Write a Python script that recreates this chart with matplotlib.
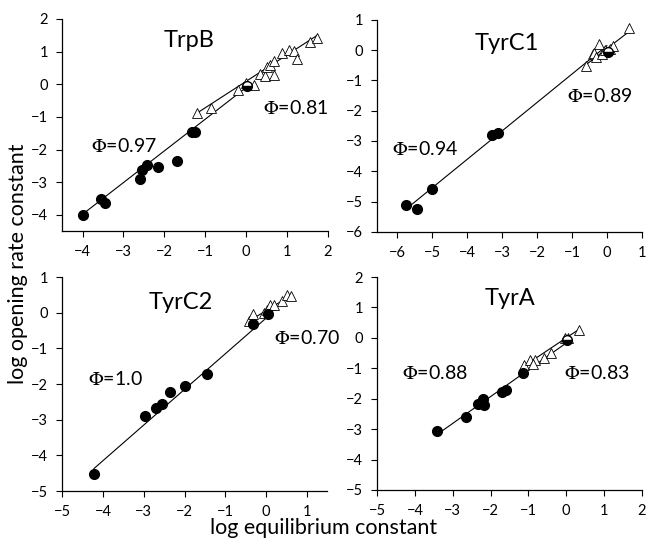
import matplotlib.pyplot as plt
import numpy as np

plt.rcParams["font.family"] = ["Lato", "DejaVu Sans"]
plt.rcParams["mathtext.fontset"] = "stix"

# TrpB
trpb_circ_x = [-4.0, -3.54, -3.45, -2.59, -2.55, -2.43, -2.15, -1.68, -1.33, -1.24]
trpb_circ_y = [-4.0, -3.50, -3.63, -2.91, -2.62, -2.47, -2.54, -2.35, -1.46, -1.46]
trpb_tri_x = [-1.21, -0.85, -0.20, 0.0, 0.20, 0.33, 0.46, 0.51, 0.58, 0.69, 0.67,
              0.88, 1.04, 1.16, 1.23, 1.57, 1.72]
trpb_tri_y = [-0.88, -0.73, -0.19, 0.05, -0.02, 0.31, 0.25, 0.54, 0.59, 0.71, 0.27,
              0.96, 1.04, 1.01, 0.76, 1.29, 1.42]
trpb_ref = (0.02, -0.06)
trpb_fits = [(0.97, -0.10, -4.0, 0.05), (0.81, 0.09, -1.2, 1.75)]

# TyrC1
tyrc1_circ_x = [-5.76, -5.42, -5.0, -3.30, -3.11]
tyrc1_circ_y = [-5.13, -5.24, -4.60, -2.81, -2.75]
tyrc1_tri_x = [-0.60, -0.41, -0.36, -0.31, -0.23, -0.13, -0.05, 0.08, 0.17, 0.64]
tyrc1_tri_y = [-0.52, -0.13, -0.08, -0.24, 0.20, -0.13, 0.0, 0.03, 0.14, 0.73]
tyrc1_ref = (0.02, -0.05)
tyrc1_fits = [(0.94, 0.15, -5.65, 0.0), (0.89, 0.05, -0.6, 0.64)]

# TyrC2
tyrc2_circ_x = [-4.22, -2.96, -2.69, -2.56, -2.36, -1.98, -1.44, -0.32, 0.05]
tyrc2_circ_y = [-4.53, -2.90, -2.67, -2.57, -2.23, -2.05, -1.71, -0.31, -0.05]
tyrc2_tri_x = [-0.42, -0.32, -0.06, 0.02, 0.09, 0.19, 0.39, 0.51, 0.61]
tyrc2_tri_y = [-0.24, -0.03, -0.01, 0.08, 0.23, 0.22, 0.32, 0.49, 0.47]
tyrc2_ref = None
tyrc2_fits = [(1.0, -0.15, -4.22, 0.05), (0.70, 0.06, -0.45, 0.6)]

# TyrA
tyra_circ_x = [-3.42, -2.65, -2.33, -2.21, -2.17, -1.69, -1.60, -1.14]
tyra_circ_y = [-3.05, -2.61, -2.16, -2.02, -2.21, -1.77, -1.72, -1.17]
tyra_tri_x = [-1.12, -0.95, -0.83, -0.88, -0.60, -0.40, -0.04, 0.04, 0.33]
tyra_tri_y = [-0.88, -0.73, -0.73, -0.86, -0.65, -0.49, 0.01, 0.01, 0.25]
tyra_ref = (0.02, -0.06)
tyra_fits = [(0.88, -0.17, -3.35, 0.05), (0.83, 0.0, -1.1, 0.35)]

panels = [
    dict(name="TrpB", cx=trpb_circ_x, cy=trpb_circ_y, tx=trpb_tri_x, ty=trpb_tri_y,
         ref=trpb_ref, fits=trpb_fits, xlim=(-4.5, 2), ylim=(-4.5, 2),
         xticks=range(-4, 3), yticks=range(-4, 3),
         rect=[0.096, 0.571, 0.411, 0.394],
         title_xy=(-1.4, 1.34), labels=[(-3.0, -1.9), (1.2, -0.73)]),
    dict(name="TyrC1", cx=tyrc1_circ_x, cy=tyrc1_circ_y, tx=tyrc1_tri_x, ty=tyrc1_tri_y,
         ref=tyrc1_ref, fits=tyrc1_fits, xlim=(-6.57, 1), ylim=(-6, 1),
         xticks=range(-6, 2), yticks=range(-6, 2),
         rect=[0.583, 0.570, 0.409, 0.393],
         title_xy=(-2.85, 0.22), labels=[(-5.2, -3.26), (-0.2, -1.5)]),
    dict(name="TyrC2", cx=tyrc2_circ_x, cy=tyrc2_circ_y, tx=tyrc2_tri_x, ty=tyrc2_tri_y,
         ref=tyrc2_ref, fits=tyrc2_fits, xlim=(-5, 1.5), ylim=(-5, 1),
         xticks=range(-5, 2), yticks=range(-5, 2),
         rect=[0.096, 0.089, 0.410, 0.397],
         title_xy=(-2.1, 0.3), labels=[(-3.7, -1.85), (1.0, -0.7)]),
    dict(name="TyrA", cx=tyra_circ_x, cy=tyra_circ_y, tx=tyra_tri_x, ty=tyra_tri_y,
         ref=tyra_ref, fits=tyra_fits, xlim=(-5, 2), ylim=(-5, 2),
         xticks=range(-5, 3), yticks=range(-5, 3),
         rect=[0.583, 0.091, 0.409, 0.395],
         title_xy=(-1.5, 1.29), labels=[(-3.47, -1.17), (0.8, -1.17)]),
]

fig = plt.figure(figsize=(6.47, 5.39), dpi=100)

for p in panels:
    ax = fig.add_axes(p["rect"])

    # fitted lines, slope = phi
    for slope, icpt, x0, x1 in p["fits"]:
        xs = np.array([x0, x1])
        ax.plot(xs, slope * xs + icpt, color="black", lw=0.8, zorder=2)

    ax.plot(p["tx"], p["ty"], linestyle="none", marker="^", ms=6.5,
            mfc="white", mec="black", mew=0.6, zorder=3)
    ax.plot(p["cx"], p["cy"], linestyle="none", marker="o", ms=7,
            mfc="black", mec="black", zorder=4)
    if p["ref"] is not None:
        ax.plot([p["ref"][0]], [p["ref"][1]], linestyle="none", marker="o", ms=7,
                fillstyle="bottom", mfc="black", mfcalt="white", mec="black",
                mew=1.0, zorder=5)

    ax.set_xlim(*p["xlim"])
    ax.set_ylim(*p["ylim"])
    ax.set_xticks(list(p["xticks"]))
    ax.set_yticks(list(p["yticks"]))
    ax.tick_params(labelsize=10.5, length=4, width=0.8, direction="out", pad=6)
    for side in ("top", "right"):
        ax.spines[side].set_visible(False)
    for side in ("left", "bottom"):
        ax.spines[side].set_linewidth(0.9)

    ax.text(*p["title_xy"], p["name"], fontsize=17, ha="center", va="center")
    slopes = [f[0] for f in p["fits"]]
    for (lx, ly), s in zip(p["labels"], slopes):
        txt = f"{s:.1f}" if s == 1.0 else f"{s:.2f}"
        ax.text(lx, ly, r"$\Phi$=" + txt, fontsize=14, ha="center", va="center",
                clip_on=False)

fig.text(0.028, 0.51, "log opening rate constant", rotation=90, fontsize=15.5,
         ha="center", va="center")
fig.text(0.5, 0.02, "log equilibrium constant", fontsize=15.5,
         ha="center", va="center")

fig.savefig("out.png", dpi=100)
